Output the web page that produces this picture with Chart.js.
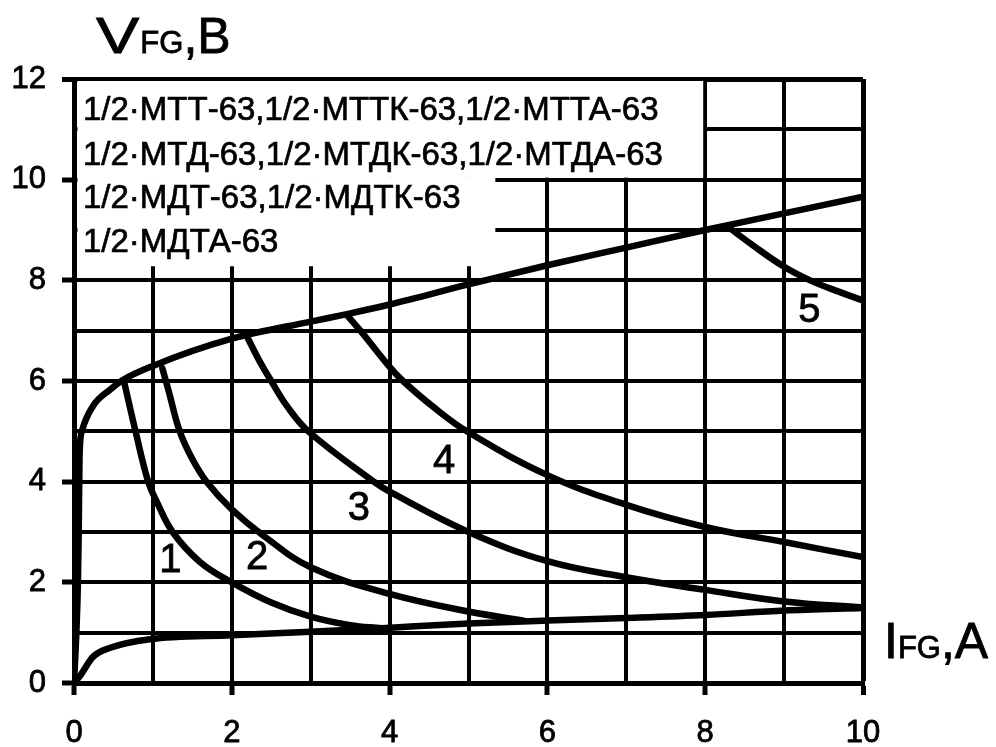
<!DOCTYPE html>
<html>
<head>
<meta charset="utf-8">
<script src="https://cdn.jsdelivr.net/npm/chart.js@4"></script>
<style>
  body { margin: 0; background: #fff; }
  canvas { display: block; }
</style>
</head>
<body>
<canvas id="vfgChart" width="996" height="747"></canvas>
<script>
// envelope (upper boundary) and lower branch
const envI = [0, 0.03, 0.05, 0.06, 0.07, 0.1, 0.24, 0.46, 0.62, 1, 2, 3, 3.46, 4, 5, 6, 7, 8, 9, 10];
const envV = [0, 1, 2, 3, 4.5, 5.0, 5.5, 5.83, 6.02, 6.3, 6.84, 7.18, 7.33, 7.52, 7.92, 8.3, 8.65, 9.0, 9.33, 9.66];
const lowI = [0, 0.08, 0.24, 0.46, 0.96, 2, 3, 3.9, 5, 6, 7, 8, 9, 10];
const lowV = [0, 0.15, 0.52, 0.7, 0.87, 0.95, 1.02, 1.09, 1.18, 1.24, 1.29, 1.35, 1.44, 1.49];

// numbered curves 1..5
const c1I = [0.63, 0.78, 0.94, 1.05, 1.25, 1.6, 2, 2.5, 3, 3.5, 3.9];
const c1V = [6.02, 5.0, 4.0, 3.6, 3.0, 2.4, 2.0, 1.6, 1.32, 1.15, 1.09];
const c2I = [1.12, 1.2, 1.34, 1.5, 1.68, 2, 2.4, 3, 4, 5, 5.7];
const c2V = [6.25, 5.8, 5.0, 4.45, 4.0, 3.45, 2.93, 2.3, 1.77, 1.42, 1.24];
const c3I = [2.2, 2.35, 2.5, 2.7, 2.97, 3.8, 4, 5, 6, 7, 8, 9, 10];
const c3V = [6.86, 6.4, 6.0, 5.5, 5.0, 4.0, 3.8, 3.0, 2.42, 2.1, 1.85, 1.62, 1.5];
const c4I = [3.46, 3.63, 4, 4.17, 4.55, 4.98, 6, 7, 8, 9, 10];
const c4V = [7.31, 7.0, 6.28, 6.0, 5.49, 5.0, 4.13, 3.54, 3.1, 2.8, 2.5];
const c5I = [8.3, 8.6, 9, 9.33, 9.7, 10];
const c5V = [9.05, 8.7, 8.27, 8.0, 7.77, 7.6];

const curveNames = ["1", "2", "3", "4", "5"];
const curveNameAt = [[1.22, 2.47], [2.32, 2.52], [3.61, 3.5], [4.69, 4.43], [9.32, 7.44]];

const legendLines = [
  "1/2·МТТ-63,1/2·МТТК-63,1/2·МТТА-63",
  "1/2·МТД-63,1/2·МТДК-63,1/2·МТДА-63",
  "1/2·МДТ-63,1/2·МДТК-63",
  "1/2·МДТА-63",
];

const FONT = '"Liberation Sans", Arial, sans-serif';

function pts(xs, ys) {
  return xs.map((x, i) => ({ x: x, y: ys[i] }));
}

function curve(xs, ys, mono) {
  return {
    data: pts(xs, ys),
    showLine: true,
    borderColor: "#000",
    borderWidth: 6.5,
    pointRadius: 0,
    cubicInterpolationMode: mono ? "monotone" : "default",
    tension: 0.4,
    borderCapStyle: "round",
    borderJoinStyle: "round",
  };
}

// filled text with a thin outline, the scan looks a bit heavier
function heavyText(ctx, t, x, y) {
  ctx.fillText(t, x, y);
  ctx.strokeText(t, x, y);
}

// white box holding the type list, painted over the grid
const typeBox = {
  id: "typeBox",
  beforeDatasetsDraw(chart) {
    const { ctx, scales } = chart;
    const xs = scales.x, ys = scales.y;
    const left = xs.getPixelForValue(0) + 3.5;
    ctx.save();
    ctx.fillStyle = "#fff";
    ctx.fillRect(left, ys.getPixelForValue(12) + 2,
      xs.getPixelForValue(8) - 2 - left, ys.getPixelForValue(10) - 2 - ys.getPixelForValue(12) - 2);
    ctx.fillRect(left, ys.getPixelForValue(10) - 2.5,
      xs.getPixelForValue(5.34) - left, ys.getPixelForValue(8.28) - ys.getPixelForValue(10) + 2.5);
    ctx.fillStyle = "#000";
    ctx.strokeStyle = "#000";
    ctx.lineWidth = 0.7;
    ctx.font = "33px " + FONT;
    ctx.textBaseline = "alphabetic";
    const baselines = [120, 165, 208, 252];
    legendLines.forEach((t, i) => heavyText(ctx, t, 83, baselines[i]));
    ctx.restore();
  },
  afterDraw(chart) {
    const { ctx, scales } = chart;
    ctx.save();
    ctx.fillStyle = "#000";
    ctx.strokeStyle = "#000";
    ctx.lineWidth = 0.8;
    ctx.textBaseline = "alphabetic";

    // axis titles
    let x = 96;
    ctx.save();
    ctx.translate(x, 53);
    ctx.scale(1.3, 1);
    ctx.font = "50px " + FONT;
    heavyText(ctx, "V", 0, 0);
    ctx.restore();
    ctx.font = "50px " + FONT;
    x += ctx.measureText("V").width * 1.3 + 1;
    ctx.font = "31px " + FONT;
    heavyText(ctx, "FG", x, 53);
    x += ctx.measureText("FG").width;
    ctx.font = "50px " + FONT;
    heavyText(ctx, ",B", x, 53);

    x = 884;
    ctx.font = "50px " + FONT;
    heavyText(ctx, "I", x, 658);
    x += ctx.measureText("I").width;
    ctx.font = "31px " + FONT;
    heavyText(ctx, "FG", x, 658);
    x += ctx.measureText("FG").width;
    ctx.font = "50px " + FONT;
    heavyText(ctx, ",A", x, 658);

    // curve numbers
    ctx.font = "40px " + FONT;
    ctx.textAlign = "center";
    ctx.textBaseline = "middle";
    curveNames.forEach((n, i) => {
      const p = curveNameAt[i];
      heavyText(ctx, n, scales.x.getPixelForValue(p[0]), scales.y.getPixelForValue(p[1]) + 2);
    });
    ctx.restore();
  },
};

const evenTick = (c) => (c.tick && c.tick.value % 2 === 0 ? "#000" : "rgba(0,0,0,0)");

new Chart(document.getElementById("vfgChart"), {
  type: "scatter",
  data: {
    datasets: [
      curve(envI, envV, true),
      curve(lowI, lowV, true),
      curve(c1I, c1V),
      curve(c2I, c2V),
      curve(c3I, c3V),
      curve(c4I, c4V),
      curve(c5I, c5V),
    ],
  },
  options: {
    responsive: false,
    animation: false,
    layout: { padding: { left: 0, top: 79, right: 133, bottom: 0 } },
    plugins: { legend: { display: false }, tooltip: { enabled: false } },
    scales: {
      x: {
        type: "linear",
        min: 0,
        max: 10,
        afterFit: (s) => { s.height = 64; },
        border: { display: true, color: "#000", width: 5 },
        grid: {
          color: "#000",
          lineWidth: (c) => (c.tick && c.tick.value === 10 ? 5 : 4),
          drawTicks: true,
          tickLength: 12,
          tickColor: evenTick,
          tickWidth: 5,
        },
        ticks: {
          stepSize: 1,
          autoSkip: false,
          maxRotation: 0,
          padding: 20,
          color: "#000",
          textStrokeColor: "#000",
          textStrokeWidth: 0.8,
          font: { size: 31, family: FONT },
          callback: (v) => (v % 2 === 0 ? v : ""),
        },
      },
      y: {
        type: "linear",
        min: 0,
        max: 12,
        afterFit: (s) => { s.width = 74; },
        border: { display: true, color: "#000", width: 5 },
        grid: {
          color: "#000",
          lineWidth: (c) => (c.tick && c.tick.value === 12 ? 5 : 4),
          drawTicks: true,
          tickLength: 12,
          tickColor: evenTick,
          tickWidth: 5,
        },
        ticks: {
          stepSize: 1,
          autoSkip: false,
          padding: 16,
          color: "#000",
          textStrokeColor: "#000",
          textStrokeWidth: 0.8,
          font: { size: 31, family: FONT },
          callback: (v) => (v % 2 === 0 ? v : ""),
        },
      },
    },
  },
  plugins: [typeBox],
});
</script>
</body>
</html>
